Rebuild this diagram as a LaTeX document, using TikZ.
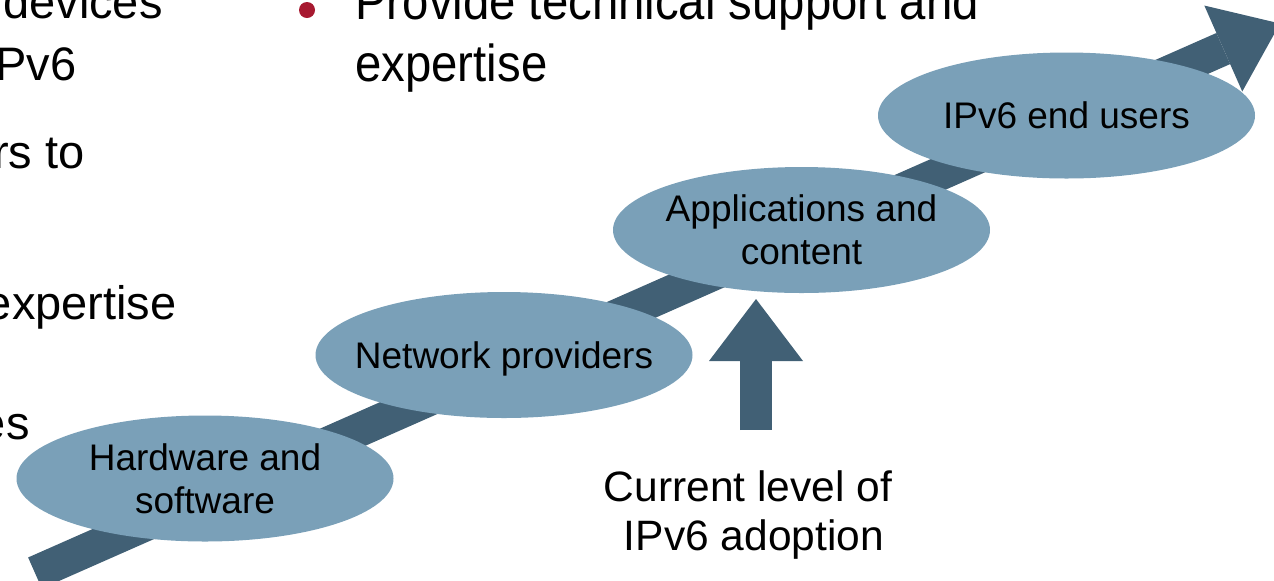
\documentclass[tikz,border=0pt]{standalone}
\usepackage{fontspec}
\setmainfont{Liberation Sans}
\newfontfamily\slidenarrow[FakeStretch=0.91]{Liberation Sans}
\usepackage{xcolor}
\usepackage{tikz}
\usetikzlibrary{shapes.geometric, arrows.meta, positioning}
\definecolor{stagefill}{RGB}{122,160,184}
\definecolor{climbblue}{RGB}{65,96,117}
\definecolor{bulletred}{RGB}{167,25,48}
\tikzset{
    stage/.style={
        ellipse,
        fill=stagefill,
        draw=none,
        minimum width=188.5pt,
        minimum height=63pt,
        inner xsep=-40pt,
        inner ysep=0pt,
        align=center,
        font=\fontsize{18.5}{21.5}\selectfont
    },
    climb/.style={
        draw=climbblue,
        line width=17pt,
        -{Triangle[length=31pt, width=47pt, line width=0pt, fill=climbblue]}
    },
    slidetext/.style={
        inner sep=0pt,
        font=\fontsize{23.5}{31}\selectfont
    },
    bullettext/.style={
        inner sep=0pt,
        font=\slidenarrow\fontsize{26}{31}\selectfont
    },
    caption/.style={
        inner sep=0pt,
        align=center,
        font=\fontsize{21.25}{24.5}\selectfont
    },
    bulletdot/.style={
        circle,
        fill=bulletred,
        minimum size=8pt,
        inner sep=0pt
    }
}

\begin{document}
\begin{tikzpicture}[x=0.5pt, y=-0.5pt]

\useasboundingbox (0,0) rectangle (1274,580);

% Rising arrow behind the stages
\coordinate (tail) at (35,573);
\coordinate (tip) at (1280,23.5);
\draw[climb] (tail) -- (tip);

% Adoption stages
\node[stage] (hw) at (205,478.5) {Hardware and\\software};
\node[stage, text depth=0pt] (net) at (504,355) {Network providers};
\node[stage] (apps) at (801.5,230) {Applications and\\content};
\node[stage, text depth=0pt] (users) at (1066.5,115.5) {IPv6 end users};

% Current level marker
\coordinate (levelfoot) at (756,430);
\coordinate (leveltop) at (756,299);
\draw[climb, line width=16pt] (levelfoot) -- (leveltop);
\node[caption, below=20pt of levelfoot, xshift=-4pt] (level) {Current level of\\\hspace*{0.28em}IPv6 adoption};

% Slide text, cut at the left edge
\node[slidetext, anchor=base east] (ldev) at (163,18) {devices};
\node[slidetext, anchor=base east] (lpv) at (77,80) {Pv6};
\node[slidetext, anchor=base east] (lrs) at (85,168) {rs to};
\node[slidetext, anchor=base east] (lexp) at (177,319) {expertise};
\node[slidetext, anchor=base east] (les) at (30,439) {es};

% Bullet at the top
\node[bulletdot] (dot) at (307,10) {};
\node[bullettext, anchor=base west] (support) at (355,19) {Provide technical support and};
\node[bullettext, anchor=base west] (supportcont) at (355,81) {expertise};

\end{tikzpicture}
\end{document}
